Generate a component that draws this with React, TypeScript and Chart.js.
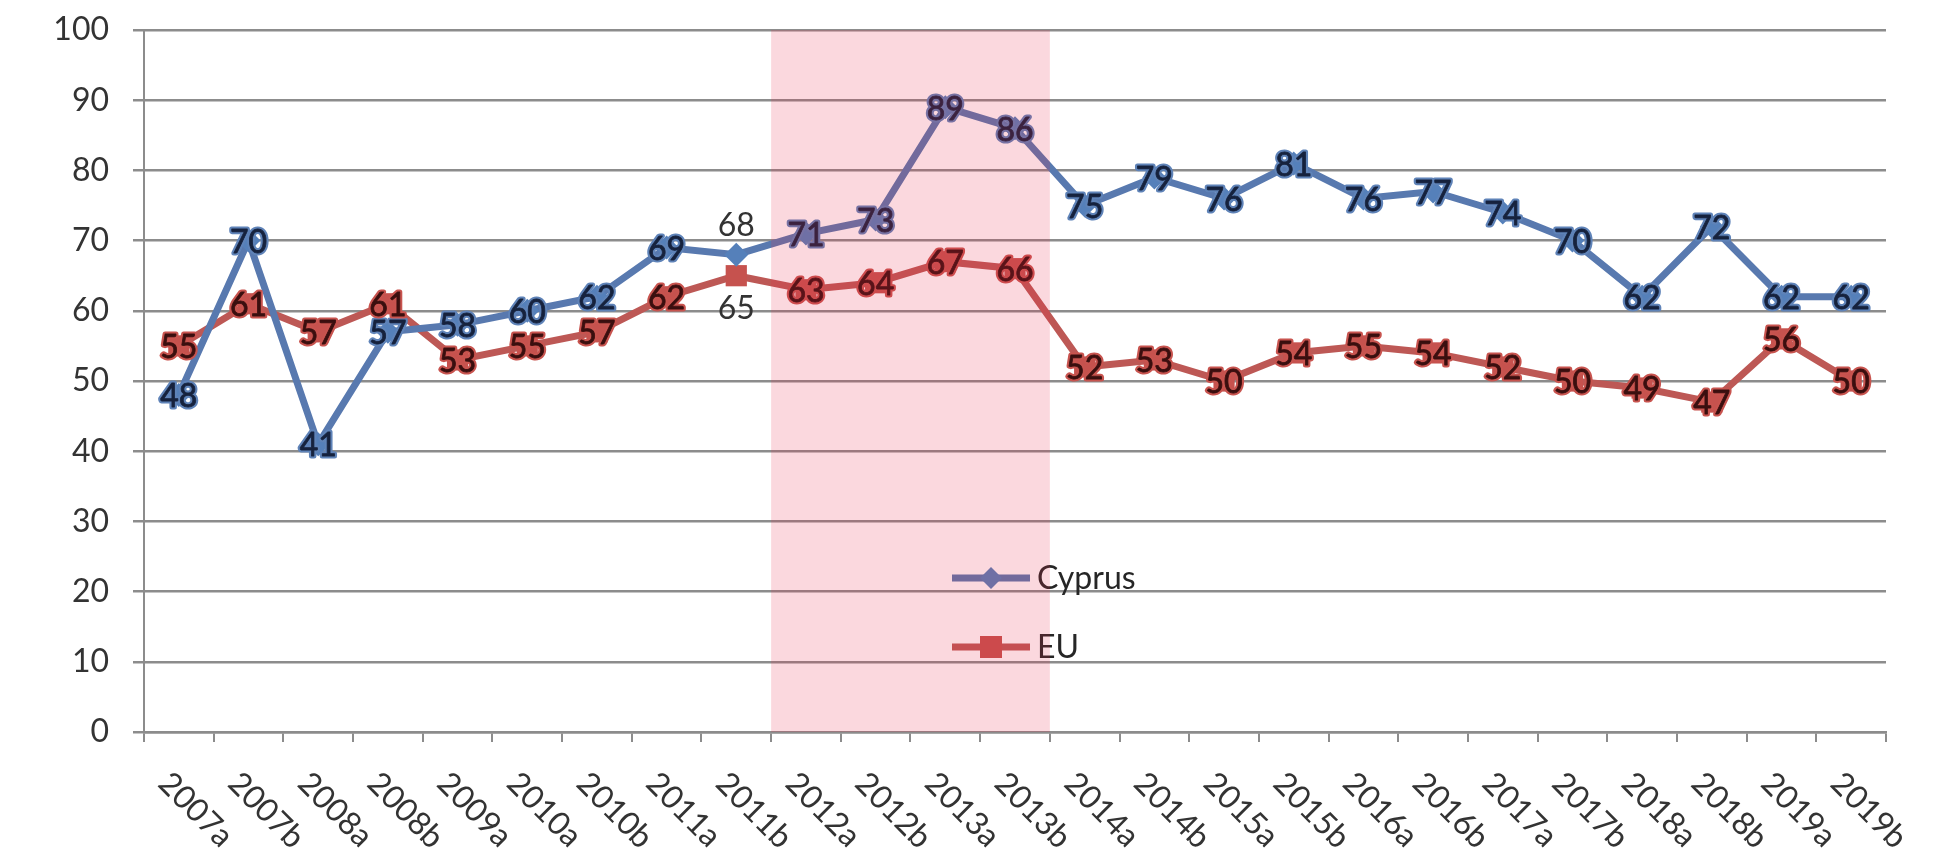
import React, { useEffect, useRef } from "react";
import { Chart, registerables } from "chart.js";

Chart.register(...registerables);

const categories = [
  "2007a", "2007b", "2008a", "2008b", "2009a", "2010a", "2010b", "2011a", "2011b",
  "2012a", "2012b", "2013a", "2013b", "2014a", "2014b", "2015a", "2015b", "2016a",
  "2016b", "2017a", "2017b", "2018a", "2018b", "2019a", "2019b",
];
const cyprusValues = [48, 70, 41, 57, 58, 60, 62, 69, 68, 71, 73, 89, 86, 75, 79, 76, 81, 76, 77, 74, 70, 62, 72, 62, 62];
const euValues = [55, 61, 57, 61, 53, 55, 57, 62, 65, 63, 64, 67, 66, 52, 53, 50, 54, 55, 54, 52, 50, 49, 47, 56, 50];
const seriesNames = ["Cyprus", "EU"];
const yMin = 0;
const yMax = 100;
const yStep = 10;
const bandStart = "2012a";
const bandEnd = "2013b";
const splitLabelCategory = "2011b";

const FONT = "Lato, 'Open Sans', sans-serif";
const cyprusLine = "#5879AF";
const cyprusMarker = "#5580BA";
const euLine = "#BD5855";
const euMarker = "#C6524E";
const cyprusText = "#16223D";
const euText = "#3A0F0F";
const cyprusHalo = "#5F83B8";
const euHalo = "#C8544F";

const valueLabelPlugin = {
  id: "valueLabels",
  afterDatasetsDraw(chart: any) {
    const ctx = chart.ctx;
    ctx.save();
    ctx.font = `32px ${FONT}`;
    ctx.textAlign = "center";
    ctx.textBaseline = "middle";
    ctx.lineJoin = "round";
    chart.data.datasets.forEach((ds: any, di: number) => {
      const meta = chart.getDatasetMeta(di);
      meta.data.forEach((pt: any, i: number) => {
        const txt = String(ds.data[i]);
        let y = pt.y + 2;
        if (categories[i] === splitLabelCategory) {
          y += di === 0 ? -31 : 31;
          ctx.fillStyle = "#333333";
          ctx.fillText(txt, pt.x, y);
          return;
        }
        const color = di === 0 ? cyprusText : euText;
        ctx.strokeStyle = di === 0 ? cyprusHalo : euHalo;
        ctx.lineWidth = 5;
        ctx.strokeText(txt, pt.x, y);
        ctx.fillStyle = color;
        ctx.strokeStyle = color;
        ctx.lineWidth = 0.8;
        ctx.fillText(txt, pt.x, y);
        ctx.strokeText(txt, pt.x, y);
      });
    });
    ctx.restore();
  },
};

const overlayPlugin = {
  id: "overlay",
  afterDraw(chart: any) {
    const ctx = chart.ctx;
    const xs = chart.scales.x;
    const area = chart.chartArea;
    ctx.save();
    // rotated category labels
    ctx.font = `32px ${FONT}`;
    ctx.fillStyle = "#333333";
    ctx.textAlign = "left";
    ctx.textBaseline = "middle";
    categories.forEach((c, i) => {
      const x = xs.getPixelForValue(i);
      ctx.save();
      ctx.translate(x - 15, area.bottom + 46);
      ctx.rotate(Math.PI / 4);
      ctx.fillText(c, 0, 0);
      ctx.restore();
    });

    // legend
    const lx0 = 952;
    const lx1 = 1030;
    const mx = 991;
    const rows = [
      { y: 578, color: cyprusLine, marker: cyprusMarker, style: "diamond", name: seriesNames[0] },
      { y: 647, color: euLine, marker: euMarker, style: "square", name: seriesNames[1] },
    ];
    rows.forEach((r) => {
      ctx.strokeStyle = r.color;
      ctx.lineWidth = 7;
      ctx.beginPath();
      ctx.moveTo(lx0, r.y);
      ctx.lineTo(lx1, r.y);
      ctx.stroke();
      ctx.fillStyle = r.marker;
      if (r.style === "diamond") {
        ctx.beginPath();
        ctx.moveTo(mx, r.y - 11);
        ctx.lineTo(mx + 11, r.y);
        ctx.lineTo(mx, r.y + 11);
        ctx.lineTo(mx - 11, r.y);
        ctx.closePath();
        ctx.fill();
      } else {
        ctx.fillRect(mx - 11, r.y - 11, 22, 22);
      }
      ctx.fillStyle = "#262626";
      ctx.font = `32px ${FONT}`;
      ctx.textAlign = "left";
      ctx.textBaseline = "middle";
      ctx.fillText(r.name, 1037, r.y + 1);
    });

    // shaded band on top
    const i0 = categories.indexOf(bandStart);
    const i1 = categories.indexOf(bandEnd);
    const half = (xs.getPixelForValue(1) - xs.getPixelForValue(0)) / 2;
    const bx0 = xs.getPixelForValue(i0) - half;
    const bx1 = xs.getPixelForValue(i1) + half;
    ctx.fillStyle = "rgba(235, 40, 70, 0.18)";
    ctx.fillRect(bx0, area.top, bx1 - bx0, area.bottom - area.top);
    ctx.restore();
  },
};

export default function App() {
  const canvasRef = useRef<HTMLCanvasElement | null>(null);

  useEffect(() => {
    document.body.style.margin = "0";
    const canvas = canvasRef.current;
    if (!canvas) return;
    const chart = new Chart(canvas, {
      type: "line",
      data: {
        labels: categories,
        datasets: [
          {
            label: seriesNames[0],
            data: cyprusValues,
            borderColor: cyprusLine,
            borderWidth: 7,
            pointStyle: "rectRot",
            pointRadius: 12,
            pointBackgroundColor: cyprusMarker,
            pointBorderColor: cyprusMarker,
            pointBorderWidth: 0,
            tension: 0,
          },
          {
            label: seriesNames[1],
            data: euValues,
            borderColor: euLine,
            borderWidth: 7,
            pointStyle: "rect",
            pointRadius: 15,
            pointBackgroundColor: euMarker,
            pointBorderColor: euMarker,
            pointBorderWidth: 0,
            tension: 0,
          },
        ],
      },
      options: {
        animation: false,
        responsive: false,
        maintainAspectRatio: false,
        devicePixelRatio: 1,
        layout: { autoPadding: false, padding: { top: 30, right: 71, left: 0, bottom: 0 } },
        plugins: {
          legend: { display: false },
          tooltip: { enabled: false },
        },
        scales: {
          x: {
            type: "category",
            offset: true,
            grid: {
              offset: true,
              drawOnChartArea: false,
              drawTicks: true,
              tickLength: 10,
              color: "#8C8C8C",
              lineWidth: 2,
            },
            border: { display: true, color: "#8C8C8C", width: 2.5 },
            ticks: { display: false },
            afterFit: (scale: any) => {
              scale.height = 124;
              scale.paddingLeft = 0;
              scale.paddingRight = 0;
            },
          },
          y: {
            min: yMin,
            max: yMax,
            ticks: {
              stepSize: yStep,
              font: { family: FONT, size: 32 },
              color: "#333333",
              padding: 24,
            },
            grid: {
              color: "#8C8C8C",
              lineWidth: 2.5,
              drawTicks: true,
              tickLength: 11,
            },
            border: { display: true, color: "#8C8C8C", width: 2 },
            afterFit: (scale: any) => {
              scale.width = 144;
              scale.paddingTop = 0;
              scale.paddingBottom = 0;
            },
          },
        },
      },
      plugins: [valueLabelPlugin, overlayPlugin],
    });
    return () => chart.destroy();
  }, []);

  return (
    <div style={{ width: 1957, height: 856, background: "#ffffff" }}>
      <canvas ref={canvasRef} width={1957} height={856} style={{ display: "block" }} />
    </div>
  );
}
